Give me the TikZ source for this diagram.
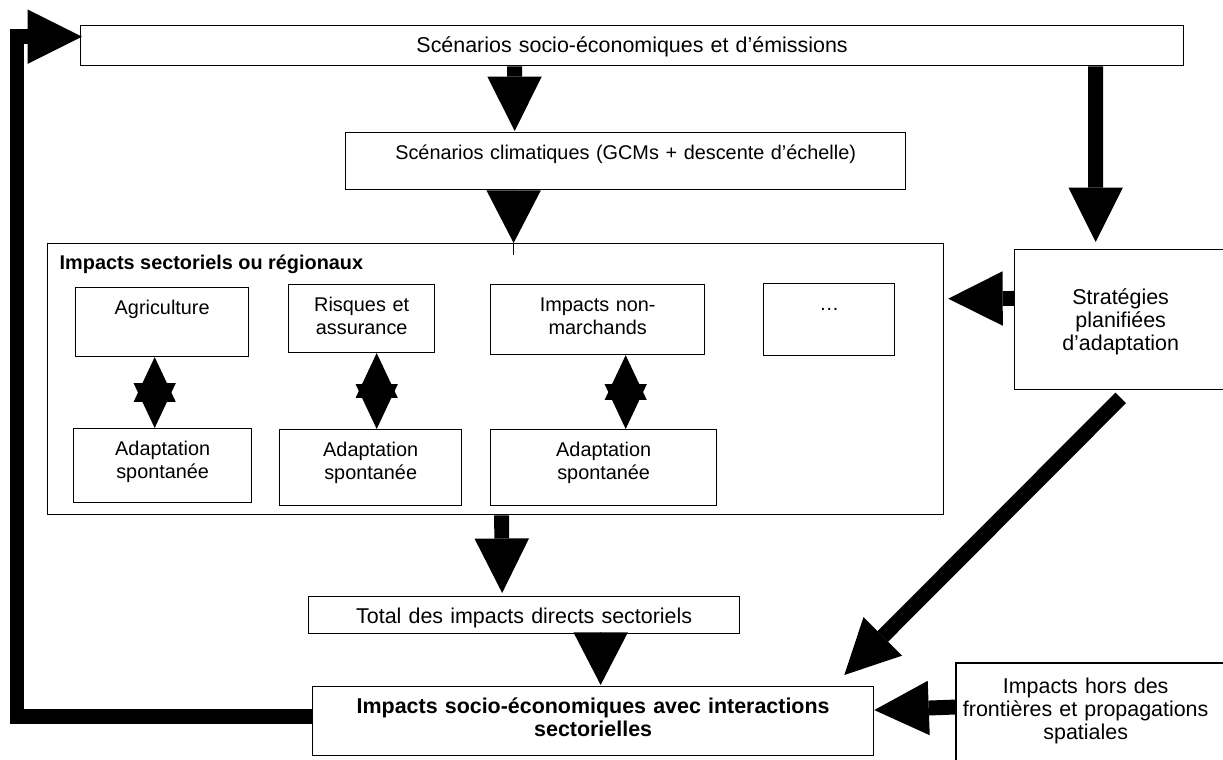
\documentclass[tikz,border=0pt]{standalone}
\usepackage{fontspec}
\setmainfont{Liberation Sans}
\usetikzlibrary{calc}
\usetikzlibrary{arrows.meta}
\newcommand{\diagfont}{\fontsize{11.3pt}{13pt}\selectfont}
\newcommand{\largefont}{\fontsize{12.2pt}{13pt}\selectfont}
\tikzset{box/.style={draw, line width=0.8pt, inner sep=0pt, align=center, text height=15.3pt, text depth=#1, anchor=north west}}
\tikzset{fatarrow/.style={line width=8.5pt, -{Triangle[width=31pt,length=31pt,line width=0pt]}}}
\tikzset{tiparrow/.style={line width=0.6pt, -{Triangle[width=31pt,length=30pt,line width=0pt]}}}
\tikzset{twoway/.style={line width=0.6pt, {Triangle[width=24pt,length=25.5pt,line width=0pt]}-{Triangle[width=24pt,length=25.5pt,line width=0pt]}}}

\begin{document}
\begin{tikzpicture}[x=0.02cm, y=-0.02cm, every node/.style={font=\diagfont}]
    \useasboundingbox (0,0) rectangle (1223,760);
    \clip (0,0) rectangle (1223,760);

    % Scenarios
    \node[box=7.4pt, text width=22.06cm, font=\largefont] (socioeco) at (80,25) {Scénarios socio-économiques et d’émissions};
    \node[box=17pt, text width=11.2cm] (climat) at (345,132) {Scénarios climatiques (GCMs + descente d’échelle)};

    % Sectoral impacts
    \node[draw, line width=0.8pt, inner sep=0pt, minimum width=17.92cm, minimum height=5.42cm, anchor=north west] (sectors) at (47,243) {};
    \node[anchor=base west, font=\diagfont\bfseries] (sectitle) at (53.5,269) {Impacts sectoriels ou régionaux};
    \node[box=23.8pt, text width=3.46cm] (agri) at (75,287) {Agriculture};
    \node[box=23.2pt, text width=2.92cm] (risk) at (288,284) {Risques et\\assurance};
    \node[box=24.4pt, text width=4.28cm] (nonmarket) at (490,284) {Impacts non-\\marchands};
    \node[box=25.5pt, text width=2.62cm] (others) at (763,283) {…};
    \node[box=26.6pt, text width=3.56cm] (adapt1) at (73,428) {Adaptation\\spontanée};
    \node[box=27.8pt, text width=3.64cm] (adapt2) at (279,429) {Adaptation\\spontanée};
    \node[box=27.8pt, text width=4.52cm] (adapt3) at (490,429) {Adaptation\\spontanée};

    % Planned adaptation
    \node[box=48.2pt, text height=31.2pt, text width=4.24cm, font=\largefont] (strat) at (1014,249) {Stratégies\\planifiées\\d’adaptation};

    % Totals
    \node[box=5.7pt, text width=8.62cm, font=\largefont] (total) at (308,596) {Total des impacts directs sectoriels};
    \node[box=23.8pt, text width=11.22cm, font=\largefont\bfseries] (socio) at (312,686) {Impacts socio-économiques avec interactions\\sectorielles};
    \node[box=50pt, draw=none, text height=17pt, text width=5.16cm, font=\largefont] (outside) at (956,663) {Impacts hors des\\frontières et propagations\\spatiales};
    \draw[line width=0.8pt] (outside.north west) rectangle ($(outside.south east)+(40,0)$);

    % Arrows
    \draw[fatarrow] ($(socioeco.south)+(-117.5,0)$) -- ($(climat.north)+(-111,-1)$);
    \draw[tiparrow] ($(climat.south)+(-112,0)$) -- ($(sectors.north)+(18,0)$);
    \draw[line width=0.6pt] ($(sectors.north)+(18,0)$) -- ($(sectors.north)+(18,12)$);
    \draw[fatarrow] ($(socioeco.south)+(463.5,0)$) -- ($(strat.north)+(-25,-7)$);
    \draw[fatarrow] ($(strat.west)+(0,-21)$) -- ($(sectors.east)+(4,-80.5)$);
    \draw[twoway] ($(agri.south)+(-7.5,0)$) -- ($(adapt1.north)+(-8,0)$);
    \draw[twoway] ($(risk.south)+(15,0)$) -- ($(adapt2.north)+(6,0)$);
    \draw[twoway] ($(nonmarket.south)+(28,0)$) -- ($(adapt3.north)+(22,0)$);
    \draw[fatarrow] ($(sectors.south)+(6,0)$) -- ($(total.north)+(-22,-3)$);
    \draw[tiparrow] ($(total.south)+(76.5,0)$) -- ($(socio.north)+(7.5,-1)$);
    \draw[fatarrow] ($(strat.south)+(0,8)$) -- ($(socio.north east)+(-30,-11)$);
    \draw[fatarrow] ($(outside.north west)+(0,44)$) -- ($(socio.east)+(0,-11)$);

    % Feedback loop
    \draw[fatarrow] ($(socio.west)+(0,-5)$) -| ($(socioeco.west)+(-63,-9)$) -- ($(socioeco.west)+(2,-9)$);
\end{tikzpicture}
\end{document}
